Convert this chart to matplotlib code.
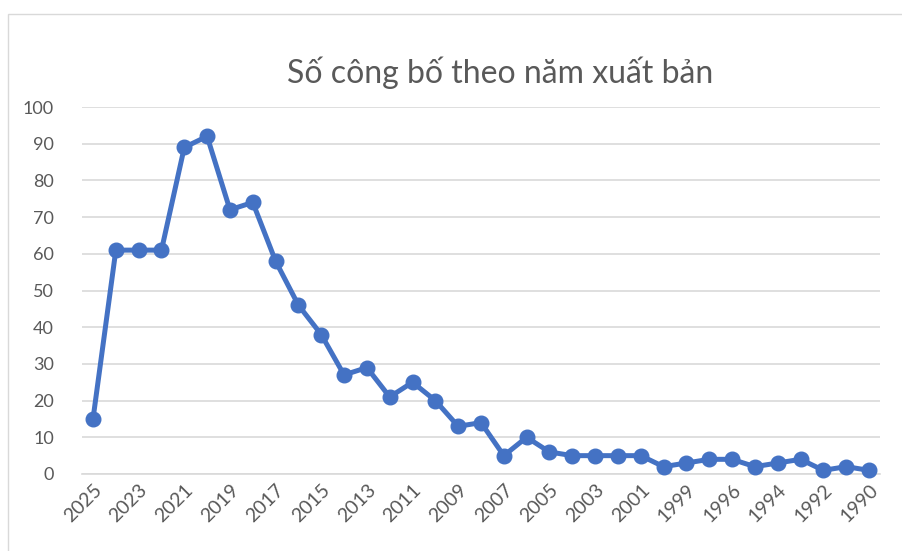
import matplotlib
matplotlib.use("Agg")
import matplotlib.pyplot as plt
from matplotlib.patches import Rectangle

years = ["2025", "2024", "2023", "2022", "2021", "2020", "2019", "2018", "2017", "2016",
         "2015", "2014", "2013", "2012", "2011", "2010", "2009", "2008", "2007", "2006",
         "2005", "2004", "2003", "2002", "2001", "2000", "1999", "1998", "1996", "1995",
         "1994", "1993", "1992", "1991", "1990"]
counts = [15, 61, 61, 61, 89, 92, 72, 74, 58, 46,
          38, 27, 29, 21, 25, 20, 13, 14, 5, 10,
          6, 5, 5, 5, 5, 2, 3, 4, 4, 2,
          3, 4, 1, 2, 1]
title = "Số công bố theo năm xuất bản"
yticks = [0, 10, 20, 30, 40, 50, 60, 70, 80, 90, 100]

plt.rcParams['font.family'] = ['Lato', 'DejaVu Sans']
W, H = 902, 551
fig = plt.figure(figsize=(W / 100, H / 100), dpi=100)
fig.patch.set_facecolor("white")

# chart border
fig.patches.append(Rectangle((8 / W, -0.1), 1.2, 1 - 14 / H + 0.1, transform=fig.transFigure,
                             fill=False, edgecolor="#d9d9d9", linewidth=1.0))

left, right = 81.6 / W, 880.4 / W
bottom, top = 1 - 474 / H, 1 - 107 / H
ax = fig.add_axes([left, bottom, right - left, top - bottom])

x = list(range(len(years)))
ax.plot(x, counts, color="#4472C4", linewidth=3.6, marker="o", markersize=10.5,
        solid_joinstyle="round", zorder=3, clip_on=False)

ax.set_xlim(-0.5, len(years) - 0.5)
ax.set_ylim(0, 100)
ax.set_yticks(yticks)
ax.set_yticklabels([str(v) for v in yticks])
ax.yaxis.grid(True, color="#d9d9d9", linewidth=1.2)
ax.set_axisbelow(True)
ax.set_xticks(x[::2])
ax.set_xticklabels(years[::2], rotation=45, ha="right", va="top", rotation_mode="anchor")
for s in ax.spines.values():
    s.set_visible(False)
ax.spines["bottom"].set_visible(True)
ax.spines["bottom"].set_color("#d9d9d9")
ax.spines["bottom"].set_linewidth(1.2)
ax.tick_params(axis="both", length=0, colors="#595959")
ax.tick_params(axis="y", pad=20, labelsize=13)
ax.tick_params(axis="x", pad=5, labelsize=14)
for lbl in ax.get_yticklabels():
    lbl.set_horizontalalignment("right")

fig.text(500 / W, 1 - 73 / H, title, ha="center", va="center", fontsize=23, color="#595959")

fig.savefig("out.png", dpi=100, facecolor="white")
